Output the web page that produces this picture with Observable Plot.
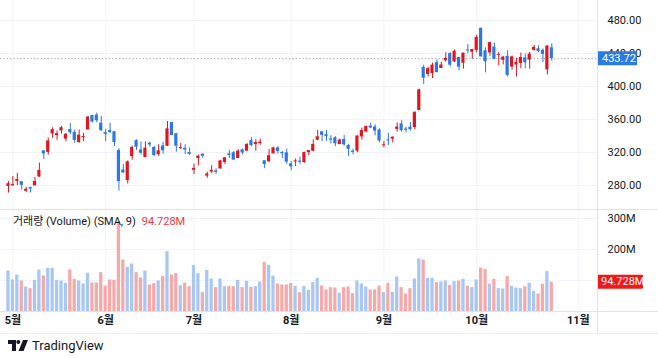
<!DOCTYPE html>
<html><head><meta charset="utf-8">
<script src="https://cdn.jsdelivr.net/npm/d3@7"></script>
<script src="https://cdn.jsdelivr.net/npm/@observablehq/plot@0.6"></script>
<style>
body{margin:0;background:#fff;font-family:Roboto,"Noto Sans CJK KR",sans-serif;}
#wrap{position:relative;width:658px;height:358px;overflow:hidden;background:#fff;}
.abs{position:absolute;}
#legend{left:13px;top:215px;font-size:11px;color:#131722;white-space:nowrap;line-height:14px;}
#legend span{color:#f23645;margin-left:6px;}
#footer{left:8px;top:338px;font-size:13px;color:#131722;display:flex;align-items:center;}
</style></head><body>
<div id="wrap"></div>
<script>
// ---- data (TradingView-style daily candles, index -1 = first visible bar) ----
const dates = ["04-30","05-01","05-02","05-05","05-06","05-07","05-08","05-09","05-12","05-13","05-14","05-15","05-16","05-19","05-20","05-21","05-22","05-23","05-27","05-28","05-29","05-30","06-02","06-03","06-04","06-05","06-06","06-09","06-10","06-11","06-12","06-13","06-16","06-17","06-18","06-20","06-23","06-24","06-25","06-26","06-27","06-30","07-01","07-02","07-03","07-07","07-08","07-09","07-10","07-11","07-14","07-15","07-16","07-17","07-18","07-21","07-22","07-23","07-24","07-25","07-28","07-29","07-30","07-31","08-01","08-04","08-05","08-06","08-07","08-08","08-11","08-12","08-13","08-14","08-15","08-18","08-19","08-20","08-21","08-22","08-25","08-26","08-27","08-28","08-29","09-02","09-03","09-04","09-05","09-08","09-09","09-10","09-11","09-12","09-15","09-16","09-17","09-18","09-19","09-22","09-23","09-24","09-25","09-26","09-29","09-30","10-01","10-02","10-03","10-06","10-07","10-08","10-09","10-10","10-13","10-14","10-15","10-16","10-17","10-20","10-21","10-22","10-23","10-24"];
const open = [278.86,280.01,284.90,284.57,273.11,276.88,279.63,290.21,321.99,320.00,342.50,340.34,346.24,336.30,347.87,344.43,331.90,337.92,347.35,364.84,365.29,355.52,343.50,346.60,345.10,322.49,298.83,285.96,314.94,334.40,323.08,313.97,331.29,326.09,317.31,327.95,327.54,356.17,342.70,324.61,324.51,319.90,298.46,312.63,317.99,291.37,297.00,297.55,300.05,307.89,317.73,319.68,312.80,323.15,321.66,334.40,329.74,330.90,310.00,308.74,318.45,325.55,319.37,319.61,306.21,309.08,308.95,307.89,319.79,321.43,335.00,345.00,341.50,335.76,337.66,329.62,335.79,328.50,321.66,321.66,338.90,344.93,351.94,350.91,347.23,328.23,335.20,336.15,348.00,354.64,348.44,350.55,350.17,370.94,423.13,414.50,415.75,428.87,421.82,431.11,439.88,429.83,435.24,428.30,444.35,441.52,443.80,470.54,443.29,440.75,447.82,437.57,431.81,436.54,423.53,426.00,428.00,434.73,432.10,443.87,445.76,443.87,420.00,446.83];
const high = [284.73,290.87,294.78,284.85,277.73,277.92,289.80,307.04,322.21,337.59,350.00,346.14,351.62,343.00,354.99,347.35,347.27,343.18,363.79,365.00,367.71,363.68,348.02,355.40,345.60,324.55,305.50,309.83,327.83,335.50,332.56,332.99,332.05,327.26,329.32,332.36,357.54,356.26,343.00,331.05,329.34,325.58,305.89,316.83,318.45,296.15,304.05,300.15,310.48,314.09,322.60,321.20,323.50,324.34,330.90,338.00,335.41,336.20,310.15,323.63,326.25,326.85,321.37,324.25,309.31,312.12,314.30,320.47,322.40,335.15,346.64,345.26,346.93,340.47,339.30,336.27,340.55,330.00,324.00,340.25,349.53,351.90,355.39,353.55,348.75,333.33,343.33,338.89,355.87,358.44,350.77,356.33,368.99,396.69,425.70,423.25,428.31,432.22,429.47,440.97,440.97,444.21,435.35,440.47,450.98,445.00,462.29,470.75,446.77,453.55,452.68,441.33,436.35,443.13,436.89,434.20,440.51,439.35,441.33,449.80,449.40,445.54,449.40,451.68];
const low = [270.78,279.81,279.81,274.40,271.35,271.00,279.41,290.00,311.50,316.80,337.00,334.72,342.33,333.37,341.63,331.11,331.39,333.21,347.32,355.91,356.00,345.29,333.33,343.04,327.33,273.21,295.00,281.85,310.67,322.50,316.86,313.30,326.41,314.74,315.45,317.78,327.48,340.44,320.40,323.61,317.50,316.60,293.21,303.82,312.76,288.77,294.35,293.55,300.00,305.65,312.67,310.50,312.62,317.06,321.42,326.88,321.55,328.67,300.41,308.01,318.25,318.14,312.79,305.82,297.82,303.00,305.70,306.93,316.16,320.98,334.15,332.94,333.53,330.40,327.02,329.59,327.85,315.00,317.30,319.69,335.03,343.72,349.16,340.26,331.70,325.60,328.51,331.48,344.68,344.84,343.82,346.07,347.60,370.24,402.43,411.43,409.67,416.56,421.72,429.50,423.72,429.03,419.08,421.02,439.50,433.12,440.75,435.57,416.58,436.69,432.45,425.23,426.18,411.45,419.70,411.50,421.43,421.31,421.00,442.76,441.01,429.10,413.90,430.67];
const close = [282.16,280.52,287.21,280.26,275.35,276.22,284.82,298.26,318.38,334.07,347.68,342.82,349.98,342.09,343.82,334.62,341.04,339.34,362.89,356.90,358.43,346.46,342.69,344.27,332.05,284.70,295.14,308.58,326.09,326.43,319.11,325.31,329.13,316.35,322.05,322.16,348.68,340.47,327.55,325.78,323.63,317.66,300.71,315.65,315.35,293.94,297.81,295.88,309.87,313.51,316.90,310.78,321.67,319.41,329.65,328.49,332.11,332.56,305.30,316.06,325.59,321.20,319.04,308.27,302.63,309.26,308.72,319.91,322.27,329.65,339.03,340.84,339.38,335.58,330.56,335.16,329.31,323.90,320.11,340.01,346.60,351.67,349.60,345.98,333.87,329.36,334.09,338.53,350.84,346.40,346.97,347.79,368.81,395.94,410.04,421.62,425.86,416.85,426.07,434.21,425.85,442.79,423.39,440.40,443.21,444.72,459.46,436.00,429.83,453.25,433.09,438.69,435.54,413.49,435.90,429.24,435.15,428.75,439.31,447.43,442.60,438.97,448.98,433.72];
const volumeM = [130.6,101.6,117.7,98.4,79.0,73.7,100.5,133.9,114.5,139.2,139.2,100.5,98.4,90.9,133.9,103.8,98.4,88.7,123.1,92.0,92.0,125.3,82.2,101.6,100.5,289.8,166.1,142.5,153.2,125.3,108.1,130.6,85.5,89.8,98.4,112.4,193.1,117.7,122.0,83.3,92.0,80.1,148.0,122.0,60.8,132.8,104.8,76.9,104.8,80.1,80.1,80.1,100.5,76.9,97.3,78.0,80.1,95.2,158.6,149.0,114.5,88.7,85.5,85.5,90.9,81.2,60.8,81.2,68.3,93.0,106.9,82.2,69.4,76.9,75.8,58.6,76.9,79.0,57.5,98.4,88.7,79.0,69.4,69.4,82.2,60.8,90.9,61.8,111.2,76.9,56.5,73.7,104.8,169.3,166.1,106.9,106.9,93.0,95.2,98.4,84.4,96.2,98.4,103.8,81.2,76.9,101.6,140.3,136.0,88.7,103.8,73.7,72.6,113.4,81.2,75.8,73.7,80.1,90.9,64.9,56.5,87.6,128.5,94.728];
const monthIdx = [0, 21, 41, 63, 84, 105, 128];
const monthLabels = ["5월", "6월", "7월", "8월", "9월", "10월", "11월"];
const priceTicks = [280, 320, 360, 400, 440, 480];
const volGridTicks = [100, 200, 300];
const volLabelTicks = [200, 300];
const volLegend = "거래량 (Volume) (SMA, 9)";

// ---- derived table ----
const firstIdx = -1;
const bars = dates.map((d, k) => ({
  i: k + firstIdx, date: d, o: open[k], h: high[k], l: low[k], c: close[k], v: volumeM[k],
  up: close[k] >= open[k]
}));
const last = bars[bars.length - 1];

const UP = "#e0161e", DOWN = "#2b78e4";
const VOL_UP = "#a9c7f3", VOL_DOWN = "#f6a9a9";
const GRID = "#f0f3fa", BORDER = "#e0e3eb", TXT = "#131722";
const xScale = {type: "linear", domain: [-2.807, 132.35]};
const W = 658, MR = 61;

const wrap = document.getElementById("wrap");

// ---- price pane ----
const price = Plot.plot({
  width: W, height: 209, marginLeft: 0, marginRight: MR, marginTop: 0, marginBottom: 0,
  style: {fontFamily: 'Roboto,"Noto Sans CJK KR",sans-serif', fontSize: "11px", color: TXT, background: "transparent"},
  x: {...xScale, axis: null},
  y: {domain: [250.9, 504.24], axis: null},
  marks: [
    Plot.gridY(priceTicks, {stroke: GRID, strokeOpacity: 1}),
    Plot.ruleX(monthIdx, {stroke: GRID, strokeOpacity: 1}),
    Plot.ruleY([last.c], {stroke: "#9098a8", strokeDasharray: "1.2,2.2", strokeWidth: 1}),
    Plot.ruleX(bars, {x: "i", y1: "l", y2: "h", stroke: d => d.up ? UP : DOWN, strokeWidth: 1}),
    Plot.rect(bars, {
      x1: d => d.i - 0.36, x2: d => d.i + 0.36,
      y1: d => Math.min(d.o, d.c) - (Math.abs(d.o - d.c) < 1 ? 0.6 : 0),
      y2: d => Math.max(d.o, d.c) + (Math.abs(d.o - d.c) < 1 ? 0.6 : 0),
      fill: d => d.up ? UP : DOWN
    }),
    Plot.axisY(priceTicks, {anchor: "right", label: null, tickSize: 0, tickPadding: 10, tickFormat: d => d.toFixed(2), fill: TXT})
  ]
});
price.classList.add("abs");
price.style.left = "0px"; price.style.top = "0px";
wrap.appendChild(price);
{
  const ys = price.scale("y").apply(last.c);
  const xr = W - MR;
  const g = d3.select(price).append("g");
  g.append("rect").attr("x", xr).attr("y", ys - 7).attr("width", 40).attr("height", 14).attr("rx", 1).attr("fill", "#2a7ae2");
  g.append("text").attr("x", xr + 5).attr("y", ys).attr("dy", "0.35em").attr("fill", "#fff")
    .attr("text-anchor", "start").attr("font-size", 11).text(last.c.toFixed(2));
}

// ---- volume pane ----
const vol = Plot.plot({
  width: W, height: 126, marginLeft: 0, marginRight: MR, marginTop: 0, marginBottom: 24,
  style: {fontFamily: 'Roboto,"Noto Sans CJK KR",sans-serif', fontSize: "11px", color: TXT, background: "transparent"},
  x: {...xScale, axis: null},
  y: {domain: [0, 329], axis: null},
  marks: [
    Plot.gridY(volGridTicks, {stroke: GRID, strokeOpacity: 1}),
    Plot.ruleX(monthIdx, {y1: 0, y2: 329, stroke: GRID, strokeOpacity: 1}),
    Plot.rect(bars, {x1: d => d.i - 0.37, x2: d => d.i + 0.37, y1: 0, y2: "v", fill: d => d.up ? VOL_UP : VOL_DOWN}),
    Plot.axisY(volLabelTicks, {anchor: "right", label: null, tickSize: 0, tickPadding: 10, tickFormat: d => d + "M", fill: TXT}),
    Plot.axisX(monthIdx, {anchor: "bottom", label: null, tickSize: 0, tickPadding: 5, tickFormat: d => monthLabels[monthIdx.indexOf(d)], fontWeight: "bold", fill: TXT})
  ]
});
vol.classList.add("abs");
vol.style.left = "0px"; vol.style.top = "209px";
wrap.appendChild(vol);
{
  const ys = vol.scale("y").apply(last.v);
  const xr = W - MR;
  const g = d3.select(vol).append("g");
  g.append("rect").attr("x", xr).attr("y", ys - 7).attr("width", 46).attr("height", 14).attr("rx", 1).attr("fill", "#f21818");
  g.append("text").attr("x", xr + 4).attr("y", ys).attr("dy", "0.35em").attr("fill", "#fff")
    .attr("text-anchor", "start").attr("font-size", 11).text(last.v.toFixed(3) + "M");
}

// ---- pane borders ----
function line(css){ const d = document.createElement("div"); d.className = "abs"; Object.assign(d.style, css); wrap.appendChild(d); }
line({left: (W - MR) + "px", top: "0px", width: "1px", height: "333px", background: BORDER});
line({left: "0px", top: "209px", width: W + "px", height: "1px", background: BORDER});
line({left: "0px", top: "311px", width: W + "px", height: "1px", background: BORDER});
line({left: "0px", top: "333px", width: W + "px", height: "1px", background: "#eef0f3"});

// ---- legend ----
const lg = document.createElement("div");
lg.id = "legend"; lg.className = "abs";
lg.textContent = volLegend;
const sp = document.createElement("span"); sp.textContent = last.v.toFixed(3) + "M";
lg.appendChild(sp);
wrap.appendChild(lg);

// ---- footer ----
const ft = document.createElement("div");
ft.id = "footer"; ft.className = "abs";
ft.innerHTML = '<svg width="20" height="11" viewBox="0 0 20 11" style="margin-right:4px"><path d="M0 0h8v11h-4v-7h-4z" fill="#131722"/><circle cx="10.3" cy="2" r="2" fill="#131722"/><path d="M15 0h5l-4.5 11h-5z" fill="#131722"/></svg><span>TradingView</span>';
wrap.appendChild(ft);
</script>
</body></html>
